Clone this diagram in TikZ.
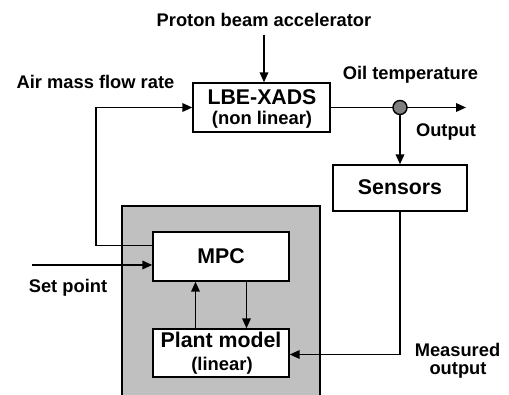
\documentclass[tikz,border=0pt]{standalone}
\usepackage{fontspec}
\setmainfont{Liberation Sans}
\usetikzlibrary{arrows.meta,calc}
\tikzset{
  blk/.style={draw,line width=1.4pt,fill=white,inner sep=0pt},
  bigtxt/.style={font=\fontsize{21.3}{22}\selectfont\bfseries,inner sep=0pt,anchor=base},
  subtxt/.style={font=\fontsize{18.4}{20}\selectfont\bfseries,inner sep=0pt,anchor=base},
  lbl/.style={font=\fontsize{18.3}{20}\selectfont\bfseries,inner sep=0pt,anchor=base},
  arr/.style={line width=1.9pt,-{Triangle[length=10pt,width=8.5pt]}},
  ln/.style={line width=1.9pt}
}
\begin{document}
\begin{tikzpicture}[x=1pt,y=-1pt]
\useasboundingbox (0,0) rectangle (509,395);
\clip (0,0) rectangle (509,395);
% gray controller area
\draw[line width=1.4pt,fill={rgb,255:red,192;green,192;blue,192}] (122,206) rectangle (320,400);
% blocks
\node[blk,minimum width=137pt,minimum height=49pt] (lbe) at (261.5,107.5) {};
\node[bigtxt] (lbe1) at (262,105) {LBE-XADS};
\node[subtxt] (lbe2) at (262,124.5) {(non linear)};
\node[blk,minimum width=134pt,minimum height=46pt] (sensors) at (400,188) {};
\node[bigtxt] (sens1) at (400,195) {Sensors};
\node[blk,minimum width=136pt,minimum height=49pt] (mpc) at (221,256.5) {};
\node[bigtxt] (mpc1) at (221,264) {MPC};
\node[blk,minimum width=136pt,minimum height=48pt] (plant) at (221,353) {};
\node[bigtxt] (plant1) at (221,348) {Plant model};
\node[subtxt] (plant2) at (222,371) {(linear)};
% labels
\node[lbl] (proton) at (264,27) {Proton beam accelerator};
\node[lbl] (air) at (95.5,89) {Air mass flow rate};
\node[lbl] (oil) at (410.5,80) {Oil temperature};
\node[lbl] (outl) at (446,137) {Output};
\node[lbl] (setp) at (68,293) {Set point};
\node[lbl] (meas1) at (457.5,357) {Measured};
\node[lbl] (meas2) at (458,375) {output};
% coordinates
\coordinate (j) at (400,107.5);
\coordinate (outend) at (466,107.5);
\coordinate (fb) at (96,245.5);
\coordinate (sp) at (32,265);
\coordinate (ptop) at (264,35);
% connectors
\draw[arr] (ptop) -- (ptop |- lbe.north);
\draw[ln] (lbe.east |- j) -- (j);
\draw[arr] (j) -- (outend);
\draw[arr] (j) -- (j |- sensors.north);
\draw[arr] (mpc.west |- fb) -- (fb) |- (lbe.west |- j);
\draw[arr] (sp) -- (sp -| mpc.west);
\draw[arr] ($(plant.north)+(-25.5,0)$) -- ($(mpc.south)+(-25.5,0)$);
\draw[arr] ($(mpc.south)+(25.5,0)$) -- ($(plant.north)+(25.5,0)$);
\draw[arr] (sensors.south) |- ($(plant.east)+(0,1.5)$);
\node[circle,draw,line width=1.4pt,fill={rgb,255:red,128;green,128;blue,128},minimum size=14pt,inner sep=0pt] (jc) at (j) {};
\end{tikzpicture}
\end{document}
